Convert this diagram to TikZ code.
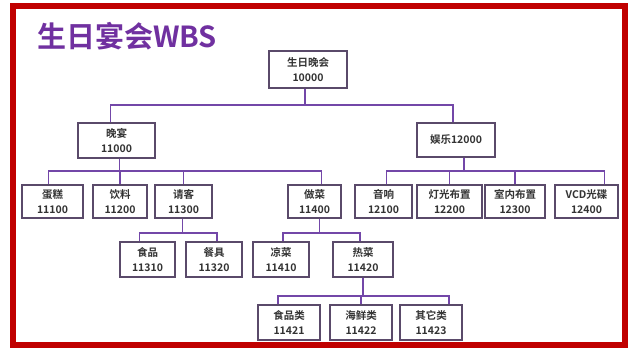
\documentclass[tikz,border=0pt]{standalone}
\usepackage{fontspec}
\newfontfamily\cjk{Noto Sans CJK SC}
\newfontfamily\cjkb{Noto Sans CJK SC Bold}
\definecolor{frame}{HTML}{C00000}
\definecolor{ttl}{HTML}{7030A0}
\definecolor{conn}{HTML}{7347A8}
\definecolor{bord}{HTML}{5A4A6A}
\definecolor{txt}{HTML}{333333}
\tikzset{
  wbox/.style={draw=bord, line width=1.1pt, fill=white, inner sep=0pt, align=center,
    text=txt, font=\cjkb\fontsize{10.5}{15}\selectfont},
  link/.style={draw=conn, line width=1.9pt}
}
\begin{document}
\begin{tikzpicture}[x=1pt,y=-1pt]
\useasboundingbox (0,0) rectangle (628,349);
\fill[white] (0,0) rectangle (628,349);
\draw[frame, line width=6pt] (13,5.5) rectangle (624.5,345);
\node[anchor=west, text=ttl, font=\cjkb\fontsize{29}{32}\selectfont, inner sep=0pt] (title) at (37,36) {生日宴会WBS};
% level 1
\node[wbox, minimum width=78pt, minimum height=37pt] (n10000) at (308,69.5) {生日晚会\\10000};
% level 2
\node[wbox, minimum width=77pt, minimum height=35pt] (n11000) at (116.5,140.5) {晚宴\\11000};
\node[wbox, minimum width=78pt, minimum height=34pt] (n12000) at (456,140) {娱乐12000};
% level 3
\node[wbox, minimum width=61pt, minimum height=33pt] (n11100) at (52.5,201.5) {蛋糕\\11100};
\node[wbox, minimum width=54pt, minimum height=33pt] (n11200) at (120,201.5) {饮料\\11200};
\node[wbox, minimum width=57pt, minimum height=33pt] (n11300) at (183.5,201.5) {请客\\11300};
\node[wbox, minimum width=53pt, minimum height=33pt] (n11400) at (314.5,201.5) {做菜\\11400};
\node[wbox, minimum width=57pt, minimum height=33pt] (n12100) at (383.5,201.5) {音响\\12100};
\node[wbox, minimum width=65pt, minimum height=33pt] (n12200) at (449.5,201.5) {灯光布置\\12200};
\node[wbox, minimum width=60pt, minimum height=33pt] (n12300) at (515,201.5) {室内布置\\12300};
\node[wbox, minimum width=63pt, minimum height=33pt] (n12400) at (586.5,201.5) {VCD光碟\\12400};
% level 4
\node[wbox, minimum width=55pt, minimum height=35pt] (n11310) at (147.5,259.5) {食品\\11310};
\node[wbox, minimum width=56pt, minimum height=35pt] (n11320) at (214,259.5) {餐具\\11320};
\node[wbox, minimum width=56pt, minimum height=35pt] (n11410) at (281,259.5) {凉菜\\11410};
\node[wbox, minimum width=60pt, minimum height=35pt] (n11420) at (363,259.5) {热菜\\11420};
% level 5
\node[wbox, minimum width=62pt, minimum height=35pt] (n11421) at (289,322.5) {食品类\\11421};
\node[wbox, minimum width=62pt, minimum height=35pt] (n11422) at (361,322.5) {海鲜类\\11422};
\node[wbox, minimum width=62pt, minimum height=35pt] (n11423) at (431,322.5) {其它类\\11423};
% connectors
\foreach \c/\s in {n11000/-6, n12000/-3}
  \draw[link] ([xshift=-3pt]n10000.south) -- ++(0,16) -| ([xshift=\s pt]\c.north);
\foreach \c/\s in {n11100/-4, n11200/0, n11300/0, n11400/7}
  \draw[link] ([xshift=3pt]n11000.south) -- ++(0,12) -| ([xshift=\s pt]\c.north);
\foreach \c/\s in {n12100/3, n12200/0, n12300/0, n12400/18}
  \draw[link] ([xshift=8pt]n12000.south) -- ++(0,13) -| ([xshift=\s pt]\c.north);
\foreach \c/\s in {n11310/-8, n11320/3}
  \draw[link] ([xshift=-1pt]n11300.south) -- ++(0,14) -| ([xshift=\s pt]\c.north);
\foreach \c/\s in {n11410/2, n11420/-3}
  \draw[link] ([xshift=5pt]n11400.south) -- ++(0,14) -| ([xshift=\s pt]\c.north);
\foreach \c/\s in {n11421/-11, n11422/0, n11423/18}
  \draw[link] (n11420.south) -- ++(0,18) -| ([xshift=\s pt]\c.north);
\end{tikzpicture}
\end{document}
